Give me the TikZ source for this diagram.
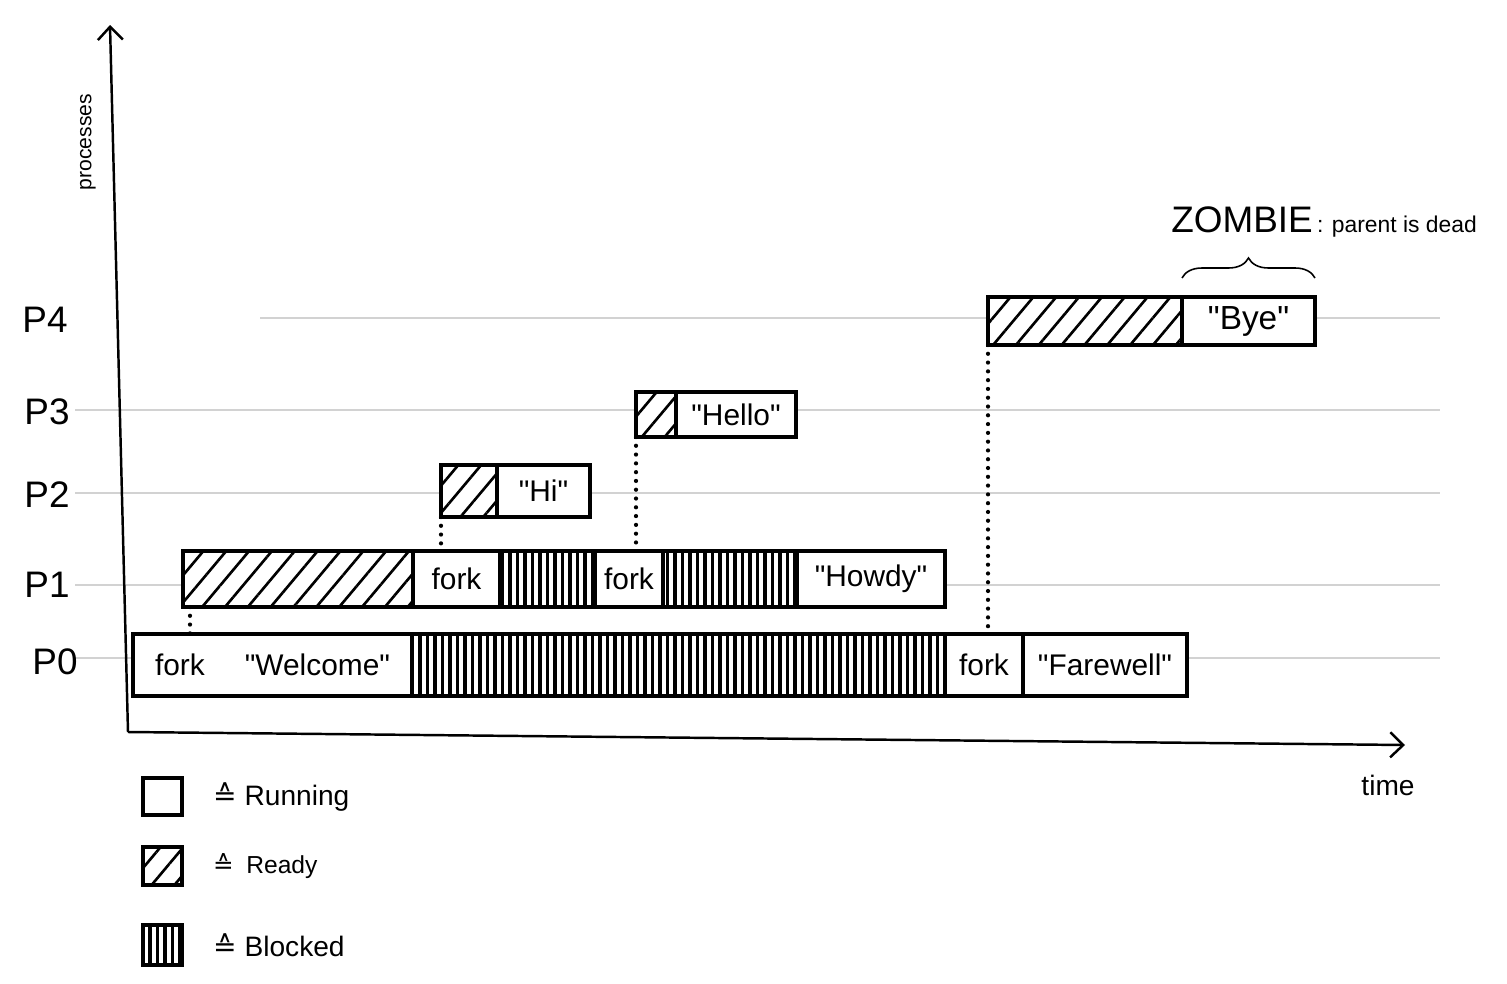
\documentclass[tikz,border=0pt]{standalone}
\usepackage{fontspec}
\setmainfont{Liberation Sans}
\newfontfamily\symfont{DejaVu Sans}
\usetikzlibrary{positioning, backgrounds, patterns.meta, arrows.meta, decorations.pathreplacing}
\newcommand\quoted[1]{\textquotedbl#1\textquotedbl}

\begin{document}
\begin{tikzpicture}[x=0.2mm, y=-0.2mm, >={Straight Barb[length=2.6mm, width=5mm]},
  state/.style={draw, line width=2pt, fill=white, inner sep=0pt, outer sep=0pt, font=\fontsize{17}{20}\selectfont},
  running/.style={state},
  ready/.style={state, preaction={fill=white}, pattern={Lines[angle=50, distance=3.5mm, line width=1.5pt]}},
  blocked/.style={state, preaction={fill=white}, pattern={Lines[angle=90, distance=1.5mm, line width=1.9pt]}},
  plabel/.style={font=\fontsize{21}{25}\selectfont},
  keytext/.style={font=\fontsize{16}{19}\selectfont, anchor=west},
  forklink/.style={line width=2.4pt, line cap=round, dash pattern=on 0pt off 5pt},
  axis/.style={line width=1.4pt},
  rowline/.style={draw=gray!35, line width=0.8pt}]
  \useasboundingbox (0,0) rectangle (1507,984);

  % Axes
  \coordinate (origin) at (128,732);
  \coordinate (ytip) at (110,25);
  \coordinate (xtip) at (1405,745);
  \draw[axis, ->] (origin) -- (ytip);
  \draw[axis, ->] (origin) -- (xtip);
  \node[font=\fontsize{12}{14}\selectfont, rotate=90] (ylabel) at (88,142) {processes};
  \node[font=\fontsize{16}{19}\selectfont] (xlabel) at (1388,785) {time};

  % Process labels
  \node[plabel] (lp4) at (45,320) {P4};
  \node[plabel] (lp3) at (47,412) {P3};
  \node[plabel] (lp2) at (47,495) {P2};
  \node[plabel] (lp1) at (47,585) {P1};
  \node[plabel] (lp0) at (55,662) {P0};

  % P0
  \begin{scope}[every node/.append style={minimum height=12.4mm}]
    \node[running, anchor=north west, minimum width=55.8mm] (p0welcome) at (133,634) {fork\hspace{8mm}\quoted{Welcome}};
    \node[blocked, minimum width=106.6mm, right=0pt of p0welcome] (p0wait) {};
    \node[running, minimum width=15.6mm, right=0pt of p0wait] (p0fork) {fork};
    \node[running, minimum width=32.8mm, right=0pt of p0fork] (p0farewell) {\quoted{Farewell}};
  \end{scope}

  % P1
  \begin{scope}[every node/.append style={minimum height=11.2mm}]
    \node[ready, anchor=north west, minimum width=46mm] (p1ready) at (183,551) {};
    \node[running, minimum width=17.4mm, right=0pt of p1ready] (p1fork) {fork};
    \node[blocked, minimum width=19mm, right=0pt of p1fork] (p1wait) {};
    \node[running, minimum width=13.6mm, right=0pt of p1wait] (p1forkb) {fork};
    \node[blocked, minimum width=26.8mm, right=0pt of p1forkb] (p1waitb) {};
    \node[running, minimum width=29.6mm, right=0pt of p1waitb] (p1howdy) {\quoted{Howdy}};
  \end{scope}

  % P2
  \begin{scope}[every node/.append style={minimum height=10.4mm}]
    \node[ready, anchor=north west, minimum width=11.2mm] (p2ready) at (441,465) {};
    \node[running, minimum width=18.6mm, right=0pt of p2ready] (p2hi) {\quoted{Hi}};
  \end{scope}

  % P3
  \begin{scope}[every node/.append style={minimum height=9mm}]
    \node[ready, anchor=north west, minimum width=8mm] (p3ready) at (636,392) {};
    \node[running, minimum width=24mm, right=0pt of p3ready] (p3hello) {\quoted{Hello}};
  \end{scope}

  % P4
  \begin{scope}[every node/.append style={minimum height=9.6mm}]
    \node[ready, anchor=north west, minimum width=38.8mm] (p4ready) at (988,297) {};
    \node[running, minimum width=26.6mm, right=0pt of p4ready, font=\fontsize{19}{22}\selectfont] (p4bye) {\quoted{Bye}};
  \end{scope}

  % fork links
  \draw[forklink] ([xshift=1.4mm]p1ready.south west) -- ([xshift=1.4mm]p1ready.south west |- p0welcome.north);
  \draw[forklink] (p2ready.south west) -- (p2ready.south west |- p1fork.north);
  \draw[forklink] (p3ready.south west) -- (p3ready.south west |- p1forkb.north);
  \draw[forklink] (p4ready.south west) -- (p4ready.south west |- p0fork.north);

  % zombie note
  \draw[decorate, decoration={brace, amplitude=4mm, raise=3.8mm}, line width=0.9pt] (p4bye.north west) -- (p4bye.north east);
  \node[font=\fontsize{21}{25}\selectfont] (zombie) at (1242,220) {ZOMBIE};
  \node[font=\fontsize{13}{16}\selectfont, anchor=base west] (zombienote) at ([xshift=-1.6mm]zombie.base east) {: parent is dead};

  % legend
  \node[running, anchor=north west, minimum width=7.8mm, minimum height=7.4mm] (keyrun) at (143,778) {};
  \node[ready, anchor=north west, minimum width=7.8mm, minimum height=7.6mm] (keyready) at (143,847) {};
  \node[blocked, anchor=north west, minimum width=7.8mm, minimum height=8mm] (keyblock) at (143,925) {};
  \node[keytext, right=5mm of keyrun] (keyruntext) {{\symfont ≙} Running};
  \node[keytext, right=5mm of keyready, font=\fontsize{14}{17}\selectfont] (keyreadytext) {{\symfont ≙}\hspace{2.5mm}Ready};
  \node[keytext, right=5mm of keyblock] (keyblocktext) {{\symfont ≙} Blocked};

  % row lines behind the bars
  \begin{scope}[on background layer]
    \draw[rowline] (260,318) -- (1440,318);
    \draw[rowline] (75,410) -- (1440,410);
    \draw[rowline] (75,493) -- (1440,493);
    \draw[rowline] (75,585) -- (1440,585);
    \draw[rowline] (75,658) -- (1440,658);
  \end{scope}
\end{tikzpicture}
\end{document}
